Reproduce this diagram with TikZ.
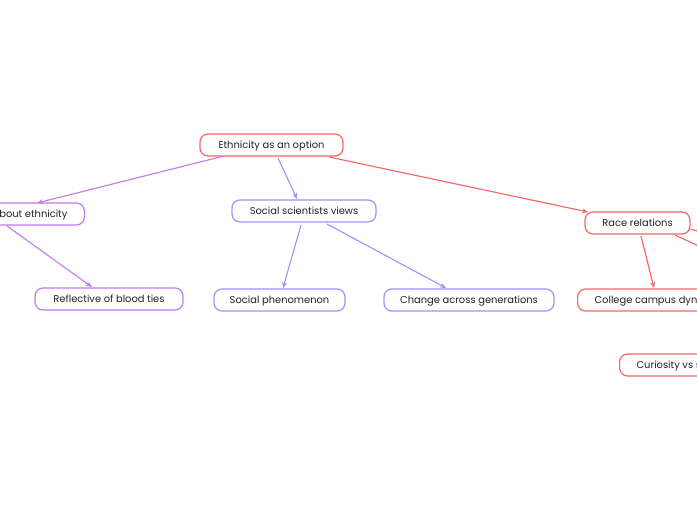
\documentclass[tikz,border=0pt]{standalone}
\usepackage{fontspec}
\setmainfont{Poppins}
\usetikzlibrary{arrows.meta}
\definecolor{cred}{HTML}{FA6464}
\definecolor{cpur}{HTML}{C47CE6}
\definecolor{cblu}{HTML}{9C94FB}
\definecolor{ctxt}{HTML}{222222}
\tikzset{
  box/.style={draw, rounded corners=8pt, line width=1.2pt, fill=white, text=ctxt,
    font=\fontsize{9.9}{11}\selectfont, minimum height=22pt, inner sep=0pt,
    text height=8pt, text depth=1pt},
  edgebox/.style={box, inner xsep=17pt},
  conn/.style={line width=1.1pt, -{Stealth[length=6pt,width=5pt]}},
}
\begin{document}
\begin{tikzpicture}[x=1pt,y=-1pt]
\useasboundingbox (0,0) rectangle (697,520);
\clip (0,0) rectangle (697,520);
\fill[white] (0,0) rectangle (697,520);
\node[box, draw=cred, minimum width=143pt] (root) at (271.5,145) {Ethnicity as an option};
\node[edgebox, draw=cpur, anchor=east] (about) at (85,214) {bout ethnicity};
\node[box, draw=cpur, minimum width=148pt] (blood) at (109,299) {Reflective of blood ties};
\node[box, draw=cblu, minimum width=144pt] (ssv) at (304,211) {Social scientists views};
\node[box, draw=cblu, minimum width=131pt] (phen) at (279.5,300) {Social phenomenon};
\node[box, draw=cblu, minimum width=170pt] (gen) at (469,300) {Change across generations};
\node[box, draw=cred, minimum width=105pt] (race) at (637.5,223) {Race relations};
\node[edgebox, draw=cred, anchor=west] (camp) at (577,300) {College campus dynamics};
\node[edgebox, draw=cred, anchor=west] (cur) at (619,365) {Curiosity vs s};
\coordinate (off1) at (720,238);
\coordinate (off2) at (720,256);
\draw[conn, draw=cpur, fill=cpur] (224,156) -- (37,203);
\draw[conn, draw=cpur, fill=cpur] (7,226) -- (92,287);
\draw[conn, draw=cblu, fill=cblu] (278,158) -- (297,199);
\draw[conn, draw=cblu, fill=cblu] (301,225) -- (283,288);
\draw[conn, draw=cblu, fill=cblu] (327,224) -- (446,288);
\draw[conn, draw=cred, fill=cred] (329,157) -- (588,212);
\draw[conn, draw=cred, fill=cred] (641,236) -- (654,288);
\draw[line width=1.1pt, draw=cred] (race.east) ++(0,6) -- (off1);
\draw[line width=1.1pt, draw=cred] (675,235) -- (off2);
\end{tikzpicture}
\end{document}
